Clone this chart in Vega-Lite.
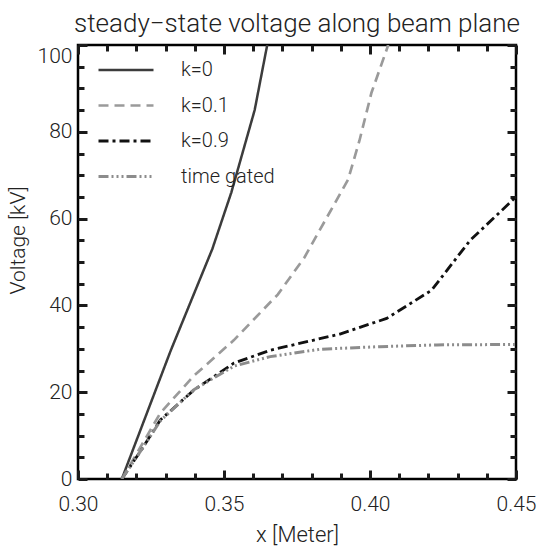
{
  "$schema": "https://vega.github.io/schema/vega-lite/v6.json",
  "width": 438,
  "height": 434,
  "autosize": {"type": "none"},
  "padding": {"left": 78, "top": 45, "right": 22, "bottom": 72},
  "background": "white",
  "title": {"text": "steady\u2212state voltage along beam plane", "fontSize": 26, "font": "Roboto", "fontWeight": 300, "color": "#222", "anchor": "middle", "offset": -12},
  "config": {
    "view": {"stroke": "#000", "strokeWidth": 2.5},
    "axis": {"grid": false, "labelFlush": false, "labelFont": "Roboto", "labelFontWeight": 300, "labelFontSize": 21, "labelColor": "#222", "titleFont": "Roboto", "titleFontWeight": 300, "titleFontSize": 22, "titleColor": "#222", "domain": false, "tickColor": "#1a1a1a", "tickWidth": 3},
    "legend": {"labelFont": "Roboto", "labelFontWeight": 300, "labelFontSize": 20, "labelColor": "#222"}
  },
  "data": {"values": [
    {"series": "k=0", "x": 0.315, "y": 0},
    {"series": "k=0", "x": 0.3317, "y": 29.5},
    {"series": "k=0", "x": 0.346, "y": 53},
    {"series": "k=0", "x": 0.3525, "y": 66},
    {"series": "k=0", "x": 0.3605, "y": 85},
    {"series": "k=0", "x": 0.3648, "y": 100},
    {"series": "k=0", "x": 0.366, "y": 104},
    {"series": "k=0.1", "x": 0.315, "y": 0},
    {"series": "k=0.1", "x": 0.3282, "y": 15.2},
    {"series": "k=0.1", "x": 0.3397, "y": 23.8},
    {"series": "k=0.1", "x": 0.3534, "y": 32},
    {"series": "k=0.1", "x": 0.3684, "y": 42.5},
    {"series": "k=0.1", "x": 0.3775, "y": 51},
    {"series": "k=0.1", "x": 0.3925, "y": 69},
    {"series": "k=0.1", "x": 0.3964, "y": 78},
    {"series": "k=0.1", "x": 0.4005, "y": 89},
    {"series": "k=0.1", "x": 0.406, "y": 99.5},
    {"series": "k=0.1", "x": 0.407, "y": 102.5},
    {"series": "k=0.9", "x": 0.315, "y": 0},
    {"series": "k=0.9", "x": 0.322, "y": 7},
    {"series": "k=0.9", "x": 0.3282, "y": 13.6},
    {"series": "k=0.9", "x": 0.3397, "y": 20.5},
    {"series": "k=0.9", "x": 0.3534, "y": 26.7},
    {"series": "k=0.9", "x": 0.366, "y": 29.7},
    {"series": "k=0.9", "x": 0.3897, "y": 33.4},
    {"series": "k=0.9", "x": 0.4057, "y": 37},
    {"series": "k=0.9", "x": 0.4211, "y": 43.5},
    {"series": "k=0.9", "x": 0.4343, "y": 55},
    {"series": "k=0.9", "x": 0.45, "y": 65},
    {"series": "time gated", "x": 0.315, "y": 0},
    {"series": "time gated", "x": 0.322, "y": 7},
    {"series": "time gated", "x": 0.3282, "y": 13.4},
    {"series": "time gated", "x": 0.3397, "y": 20.6},
    {"series": "time gated", "x": 0.3534, "y": 26.0},
    {"series": "time gated", "x": 0.3658, "y": 28.2},
    {"series": "time gated", "x": 0.3829, "y": 29.9},
    {"series": "time gated", "x": 0.4034, "y": 30.5},
    {"series": "time gated", "x": 0.4229, "y": 30.9},
    {"series": "time gated", "x": 0.45, "y": 31}
  ]},
  "resolve": {"axis": {"x": "independent", "y": "independent"}},
  "layer": [
    {
      "mark": {"type": "line", "clip": true},
      "encoding": {
        "x": {"field": "x", "type": "quantitative", "scale": {"domain": [0.30, 0.45], "nice": false, "zero": false, "padding": 0},
              "axis": {"orient": "bottom", "values": [0.30, 0.35, 0.40, 0.45], "format": ".2f", "ticks": false, "labelPadding": 14, "title": "x [Meter]", "titleBaseline": "alphabetic", "titleY": 62}},
        "y": {"field": "y", "type": "quantitative", "scale": {"domain": [0, 100], "nice": false, "zero": false, "padding": 0},
              "axis": {"orient": "left", "values": [0, 20, 40, 60, 80, 100], "ticks": false, "labelPadding": 6, "labelBaseline": {"condition": {"test": "datum.value == 100", "value": "top"}, "value": "middle"}, "title": "Voltage [kV]", "titleFontSize": 21, "titleX": -60, "titleY": 195, "titleBaseline": "middle"}},
        "color": {"field": "series", "type": "nominal", "scale": {"domain": ["k=0", "k=0.1", "k=0.9", "time gated"], "range": ["#3c3c3c", "#9a9a9a", "#111111", "#8c8c8c"]},
                  "legend": {"title": null, "orient": "none", "legendX": 19, "legendY": 13, "padding": 0, "symbolType": "stroke", "symbolSize": 3025, "labelOffset": 26, "clipHeight": 24, "rowPadding": 11.5}},
        "strokeDash": {"field": "series", "type": "nominal", "scale": {"domain": ["k=0", "k=0.1", "k=0.9", "time gated"], "range": [[1, 0], [10, 6], [10, 4, 3, 4], [10, 3, 2, 3, 2, 3, 2, 3]]}, "legend": {"title": null}},
        "strokeWidth": {"field": "series", "type": "nominal", "scale": {"domain": ["k=0", "k=0.1", "k=0.9", "time gated"], "range": [2.5, 3, 3.5, 3]}, "legend": {"title": null}}
      }
    },
    {
      "mark": {"type": "point", "opacity": 0},
      "encoding": {
        "x": {"field": "x", "type": "quantitative", "scale": {"domain": [0.30, 0.45], "nice": false, "zero": false, "padding": 0}, "axis": {"orient": "bottom", "values": [0.30, 0.35, 0.40, 0.45], "offset": -9, "tickSize": 9, "labels": false, "title": null}},
        "y": {"field": "y", "type": "quantitative", "scale": {"domain": [0, 100], "nice": false, "zero": false, "padding": 0}, "axis": {"orient": "left", "values": [0, 20, 40, 60, 80, 100], "offset": -9, "tickSize": 9, "labels": false, "title": null}}
      }
    },
    {
      "mark": {"type": "point", "opacity": 0},
      "encoding": {
        "x": {"field": "x", "type": "quantitative", "scale": {"domain": [0.30, 0.45], "nice": false, "zero": false, "padding": 0}, "axis": {"orient": "bottom", "values": [0.31, 0.32, 0.33, 0.34, 0.36, 0.37, 0.38, 0.39, 0.41, 0.42, 0.43, 0.44], "offset": -6, "tickSize": 6, "labels": false, "title": null}},
        "y": {"field": "y", "type": "quantitative", "scale": {"domain": [0, 100], "nice": false, "zero": false, "padding": 0}, "axis": {"orient": "left", "values": [5, 10, 15, 25, 30, 35, 45, 50, 55, 65, 70, 75, 85, 90, 95], "offset": -6, "tickSize": 6, "labels": false, "title": null}}
      }
    },
    {
      "mark": {"type": "point", "opacity": 0},
      "encoding": {
        "x": {"field": "x", "type": "quantitative", "scale": {"domain": [0.30, 0.45], "nice": false, "zero": false, "padding": 0}, "axis": {"orient": "top", "values": [0.30, 0.35, 0.40, 0.45], "offset": -9, "tickSize": 9, "labels": false, "title": null}},
        "y": {"field": "y", "type": "quantitative", "scale": {"domain": [0, 100], "nice": false, "zero": false, "padding": 0}, "axis": {"orient": "right", "values": [0, 20, 40, 60, 80, 100], "offset": -9, "tickSize": 9, "labels": false, "title": null}}
      }
    },
    {
      "mark": {"type": "point", "opacity": 0},
      "encoding": {
        "x": {"field": "x", "type": "quantitative", "scale": {"domain": [0.30, 0.45], "nice": false, "zero": false, "padding": 0}, "axis": {"orient": "top", "values": [0.31, 0.32, 0.33, 0.34, 0.36, 0.37, 0.38, 0.39, 0.41, 0.42, 0.43, 0.44], "offset": -6, "tickSize": 6, "labels": false, "title": null}},
        "y": {"field": "y", "type": "quantitative", "scale": {"domain": [0, 100], "nice": false, "zero": false, "padding": 0}, "axis": {"orient": "right", "values": [5, 10, 15, 25, 30, 35, 45, 50, 55, 65, 70, 75, 85, 90, 95], "offset": -6, "tickSize": 6, "labels": false, "title": null}}
      }
    }
  ]
}
